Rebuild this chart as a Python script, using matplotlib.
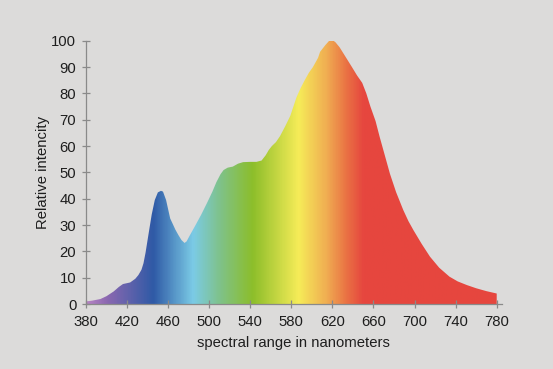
import numpy as np
import matplotlib
matplotlib.use("Agg")
import matplotlib.pyplot as plt
from matplotlib.colors import LinearSegmentedColormap

# spectrum
wavelength = [380, 386, 394, 400, 407, 412, 416, 423, 428, 431, 434, 436, 438, 441, 444,
              447, 450, 453, 455, 458, 460, 462, 465, 467, 470, 473, 476, 478, 481,
              486, 492, 498, 503, 507, 511, 514, 518, 523, 528, 533, 540, 546, 551,
              555, 558, 561, 565, 569, 574, 579, 585, 589, 593, 597, 601, 606, 608,
              613, 618, 620, 623, 627, 631, 635, 639, 644, 649, 653, 657, 662, 666,
              671, 676, 682, 689, 694, 699, 707, 715, 724, 734, 742, 751, 760, 770, 780]
intensity = [1.0, 1.3, 1.9, 3.0, 4.8, 6.5, 7.6, 8.2, 9.6, 11.0, 13.0, 15.5, 19.5, 26.8, 34.0,
             39.5, 42.4, 43.0, 42.7, 39.5, 36.0, 32.5, 30.0, 28.3, 26.2, 24.3, 23.2, 23.8, 26.0,
             29.5, 33.8, 38.5, 42.6, 46.3, 49.3, 50.9, 51.8, 52.2, 53.3, 53.9, 54.0, 54.0, 54.5,
             56.5, 58.5, 60.0, 61.5, 63.8, 67.5, 71.5, 78.5, 82.0, 85.0, 87.8, 90.0, 93.5, 95.8,
             98.3, 100.5, 100.3, 99.4, 97.5, 95.0, 92.5, 90.0, 86.8, 84.0, 80.0, 75.0, 69.5, 63.5,
             56.5, 49.5, 42.5, 35.7, 31.5, 28.0, 22.8, 18.0, 13.8, 10.4, 8.6, 7.2, 6.0, 4.9, 4.0]

xticks = list(range(380, 781, 40))
yticks = list(range(0, 101, 10))

# colour stops along the wavelength axis
stop_nm = [380, 400, 445, 484, 510, 542, 587, 614, 633, 650, 780]
stop_col = ["#b784c4", "#8b68b0", "#2f5aa6", "#7bcbe6", "#7fc28a", "#8cbe2a",
            "#f6ec58", "#f0ae52", "#ea7444", "#e6473f", "#e6463e"]

plt.rcParams["font.family"] = ["Liberation Sans", "DejaVu Sans"]
bg = "#dcdbda"
txt = "#1e1e1e"

fig = plt.figure(figsize=(5.53, 3.69), dpi=100, facecolor=bg)
ax = fig.add_axes([0.1555, 0.176, 0.752, 0.7136], facecolor=bg)

lo, hi = stop_nm[0], stop_nm[-1]
cmap = LinearSegmentedColormap.from_list(
    "spec", [((n - lo) / (hi - lo), c) for n, c in zip(stop_nm, stop_col)])

poly = ax.fill_between(wavelength, intensity, 0, color="none", lw=0)
grad = np.linspace(0, 1, 800).reshape(1, -1)
im = ax.imshow(grad, cmap=cmap, aspect="auto", extent=(lo, hi, 0, 102),
               origin="lower", zorder=1)
im.set_clip_path(poly.get_paths()[0], transform=ax.transData)

ax.set_xlim(380, 785)
ax.set_ylim(0, 100)
ax.set_xticks(xticks)
ax.set_yticks(yticks)

for s in ["top", "right"]:
    ax.spines[s].set_visible(False)
for s in ["left", "bottom"]:
    ax.spines[s].set_color("#8a8a8a")
    ax.spines[s].set_linewidth(0.9)
ax.spines["left"].set_bounds(0, 100)

ax.tick_params(direction="inout", length=6, width=0.9, color="#8a8a8a",
               labelsize=10.7, labelcolor=txt)
ax.tick_params(axis="x", pad=5)
ax.tick_params(axis="y", pad=4)

ax.set_xlabel("spectral range in nanometers", fontsize=10.7, color=txt, labelpad=5)
ax.set_ylabel("Relative intencity", fontsize=10.7, color=txt, labelpad=1)

fig.savefig("out.png", dpi=100, facecolor=bg)
